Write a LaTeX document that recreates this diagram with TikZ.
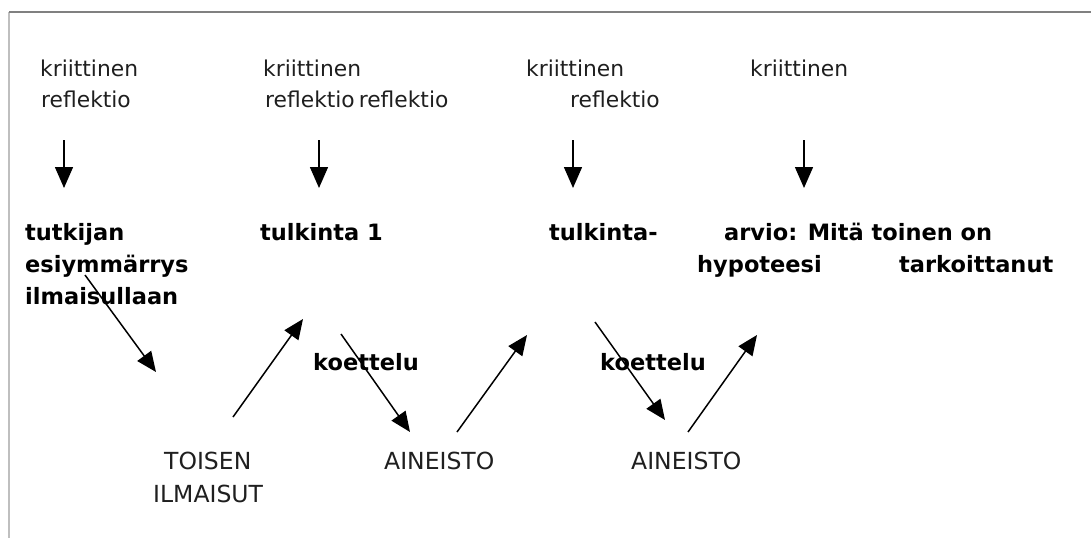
\documentclass[tikz,border=0pt]{standalone}
\usepackage{fontspec}
\setmainfont{DejaVu Sans}
\usetikzlibrary{arrows.meta}
\begin{document}
\begin{tikzpicture}[x=1pt,y=-1pt,
  txt/.style={anchor=base west,inner sep=0pt,text=black!88},
  reg/.style={txt,font=\fontsize{21.8}{26}\selectfont},
  caps/.style={txt,font=\fontsize{23.5}{28}\selectfont},
  bld/.style={anchor=base west,inner sep=0pt,text=black,font=\fontsize{22.5}{27}\selectfont\bfseries},
  arr/.style={line width=1.5pt,-{Triangle[length=20pt,width=17pt]}},
  darr/.style={line width=1.5pt,-{Triangle[length=21pt,width=18pt]}}]
\useasboundingbox (0,0) rectangle (1091,538);
\fill[white] (0,0) rectangle (1091,538);
\draw[black!25,line width=1.5pt] (9,12) -- (9,538);
\draw[black!50,line width=1.5pt] (9,12) -- (1091,12);

% regular labels
\node[reg] (k1) at (40,76) {kriittinen};
\node[reg] (r1) at (41,107) {reflektio};
\node[reg] (k2) at (263,76) {kriittinen};
\node[reg] (r2) at (265,107) {reflektio\hspace{4pt}reflektio};
\node[reg] (k3) at (526,76) {kriittinen};
\node[reg] (r3) at (570,107) {reflektio};
\node[reg] (k4) at (750,76) {kriittinen};

% bold labels
\node[bld] (t1a) at (25,240) {tutkijan};
\node[bld] (t1b) at (25,272) {esiymmärrys};
\node[bld] (t1c) at (25,304) {ilmaisullaan};
\node[bld] (t2) at (260,240) {tulkinta 1};
\node[bld] (t3) at (549,240) {tulkinta-};
\node[bld] (t4a) at (724,240) {arvio: Mitä toinen on};
\node[bld] (t4b) at (697,272) {hypoteesi};
\node[bld] (t4c) at (899,272) {tarkoittanut};
\node[bld] (ko1) at (313,370) {koettelu};
\node[bld] (ko2) at (600,370) {koettelu};

% capitals
\node[caps] (to1) at (164,469) {TOISEN};
\node[caps] (to2) at (153,502) {ILMAISUT};
\node[caps] (ai1) at (384,469) {AINEISTO};
\node[caps] (ai2) at (631,469) {AINEISTO};

% arrow end points
\coordinate (v1s) at (64,140);  \coordinate (v1e) at (64,188);
\coordinate (v2s) at (319,140); \coordinate (v2e) at (319,188);
\coordinate (v3s) at (573,140); \coordinate (v3e) at (573,188);
\coordinate (v4s) at (804,140); \coordinate (v4e) at (804,188);
\coordinate (a1s) at (85,275);  \coordinate (a1e) at (156,372);
\coordinate (a2s) at (233,417); \coordinate (a2e) at (303,319);
\coordinate (a3s) at (341,334); \coordinate (a3e) at (410,432);
\coordinate (a4s) at (457,432); \coordinate (a4e) at (527,335);
\coordinate (a5s) at (595,322); \coordinate (a5e) at (665,420);
\coordinate (a6s) at (688,432); \coordinate (a6e) at (757,335);

\draw[darr] (v1s) -- (v1e);
\draw[darr] (v2s) -- (v2e);
\draw[darr] (v3s) -- (v3e);
\draw[darr] (v4s) -- (v4e);
\draw[arr] (a1s) -- (a1e);
\draw[arr] (a2s) -- (a2e);
\draw[arr] (a3s) -- (a3e);
\draw[arr] (a4s) -- (a4e);
\draw[arr] (a5s) -- (a5e);
\draw[arr] (a6s) -- (a6e);
\end{tikzpicture}
\end{document}
